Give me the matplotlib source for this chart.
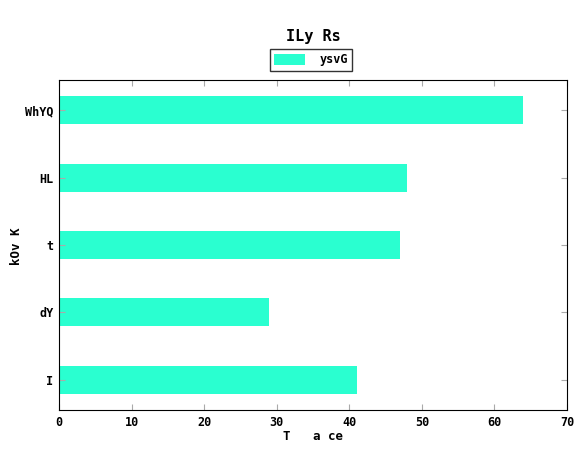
import matplotlib

matplotlib.use("Agg")
from matplotlib import pyplot as plt

# * DATA

categories = ["I", "dY", "t", "HL", "WhYQ"]
values = [41, 29, 47, 48, 64]
series_name = "ysvG"
title = "ILy Rs"
x_label = "T   a ce"
y_label = "kOv K"
x_ticks = [0, 10, 20, 30, 40, 50, 60, 70]

# * PLOT

plt.rcParams["font.family"] = "DejaVu Sans Mono"
plt.rcParams["font.weight"] = "bold"

W, H = 585, 455
fig = plt.figure(figsize=(W / 100, H / 100), dpi=100)
ax = fig.add_axes([59 / W, 1 - 410 / H, 508 / W, 330 / H])

bar_color = "#2affd0"
ax.barh(range(len(categories)), values, height=0.42, color=bar_color, label=series_name)

ax.set_xlim(0, 70)
ax.set_ylim(-0.45, 4.45)
ax.set_xticks(x_ticks)
ax.set_yticks(range(len(categories)))
ax.set_yticklabels(categories)
ax.tick_params(direction="in", top=True, right=True, labelsize=8.5, length=4, color="#aaaaaa", pad=4)
for lbl in ax.get_xticklabels() + ax.get_yticklabels():
    lbl.set_fontweight("bold")

cx = 313 / W
fig.text(cx, 1 - 437 / H, x_label, ha="center", va="center", fontsize=9, fontweight="bold")
fig.text(17 / W, 1 - 246 / H, y_label, ha="center", va="center", rotation=90,
         fontsize=9, fontweight="bold")
fig.text(cx, 1 - 37 / H, title, ha="center", va="center", fontsize=11, fontweight="bold")

leg = fig.legend(
    *ax.get_legend_handles_labels(),
    loc="center",
    bbox_to_anchor=(311 / W, 1 - 60 / H),
    frameon=True,
    fancybox=False,
    prop={"weight": "bold", "size": 8.5},
    handlelength=2.6,
    handleheight=1.0,
    handletextpad=1.2,
    borderpad=0.4,
    borderaxespad=0,
)
leg.get_frame().set_edgecolor("black")
leg.get_frame().set_linewidth(1.0)

fig.savefig("out.png", dpi=100)
